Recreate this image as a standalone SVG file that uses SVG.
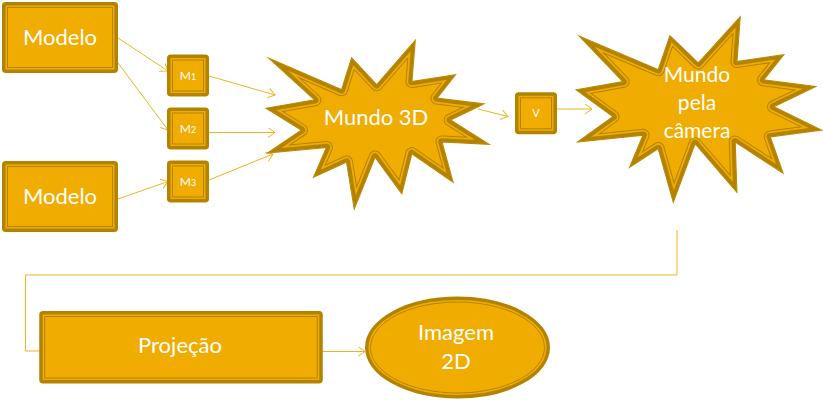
<svg xmlns="http://www.w3.org/2000/svg" xmlns:xlink="http://www.w3.org/1999/xlink" width="823" height="400" viewBox="0 0 823 400">
<style>
.o{fill:#F0AC00;stroke:#B38300;stroke-width:3.5}
.i{fill:none;stroke:#B38300;stroke-width:1}
.t{fill:#FFFFFF;font-family:Lato,"Open Sans",sans-serif;text-anchor:middle}
.c{fill:none;stroke:#F2B21E;stroke-width:1}
.sf{fill:#F0AC00;stroke:#B38300;stroke-width:1.5;stroke-linejoin:miter;stroke-miterlimit:10}
</style>
<defs>
<marker id="ah" markerUnits="userSpaceOnUse" markerWidth="10" markerHeight="12" refX="7" refY="5" orient="auto">
<path d="M0,0 L7,5 L0,10" fill="none" stroke="#F2B21E" stroke-width="1"/>
</marker>
<polygon id="s1" points="270,59 341.7,90 351.7,58.3 376.7,85 415,41 411.7,81.7 455,75 436.7,98.3 483.3,104 450,120 488.3,144 441.7,141.7 452.7,181.7 411.7,153.3 401.7,193.3 375,156.7 354.3,208.3 346.7,161.7 314,176.7 326.7,147.3 268.3,152.7 301.7,130 266.7,108.3 315,100"/>
<polygon id="s2" points="580,36.7 658.3,70 670,36 698.3,63.3 740,17.3 736.7,61.7 783.3,55 763.3,80 815,86.7 773.3,106.7 820.7,130 770,136.7 782.7,172.7 735,141.7 736.7,191.7 695,143.3 673.3,201.7 658.3,148.3 630,166.7 643.3,135 578.3,141.7 613.3,116.7 576.7,90 623.3,81.7"/>
<clipPath id="c1"><use xlink:href="#s1"/></clipPath>
<clipPath id="c2"><use xlink:href="#s2"/></clipPath>
</defs>
<rect width="823" height="400" fill="#FFFFFF"/>

<g id="connectors">
<line class="c" x1="118" y1="38" x2="168" y2="71" marker-end="url(#ah)"/>
<line class="c" x1="118" y1="63" x2="168" y2="130" marker-end="url(#ah)"/>
<line class="c" x1="118" y1="199" x2="168" y2="181.5" marker-end="url(#ah)"/>
<line class="c" x1="209" y1="76" x2="275" y2="95" marker-end="url(#ah)"/>
<line class="c" x1="209" y1="132.5" x2="275" y2="132.5" marker-end="url(#ah)"/>
<line class="c" x1="209" y1="180" x2="273" y2="154" marker-end="url(#ah)"/>
<line class="c" x1="478" y1="109" x2="508" y2="116.5" marker-end="url(#ah)"/>
<line class="c" x1="557" y1="109" x2="592" y2="109" marker-end="url(#ah)"/>
<polyline class="c" points="677,230 677,275 25.5,275 25.5,351 41,351"/>
<line class="c" x1="322" y1="351.5" x2="365" y2="351.5" marker-end="url(#ah)"/>
</g>

<g id="modelo1">
<rect class="o" x="3.75" y="3.75" width="112.5" height="67.5" rx="2"/>
<rect class="i" x="7.5" y="7.5" width="105" height="60"/>
<text class="t" x="60" y="45" font-size="22">Modelo</text>
</g>
<g id="modelo2">
<rect class="o" x="3.75" y="162.75" width="112.5" height="67.5" rx="2"/>
<rect class="i" x="7.5" y="166.5" width="105" height="60"/>
<text class="t" x="60" y="204" font-size="22">Modelo</text>
</g>
<g id="m1">
<rect class="o" x="168.75" y="56.25" width="38.5" height="38.5" rx="2"/>
<rect class="i" x="172.5" y="60" width="31" height="31"/>
<text class="t" x="188" y="80" font-size="12">M<tspan font-size="9">1</tspan></text>
</g>
<g id="m2">
<rect class="o" x="168.75" y="109.25" width="38.5" height="38.5" rx="2"/>
<rect class="i" x="172.5" y="113" width="31" height="31"/>
<text class="t" x="188" y="133" font-size="12">M<tspan font-size="9">2</tspan></text>
</g>
<g id="m3">
<rect class="o" x="168.75" y="162.25" width="38.5" height="38.5" rx="2"/>
<rect class="i" x="172.5" y="166" width="31" height="31"/>
<text class="t" x="188" y="186" font-size="12">M<tspan font-size="9">3</tspan></text>
</g>
<g id="mundo3d">
<use xlink:href="#s1" class="sf"/>
<g clip-path="url(#c1)">
<use xlink:href="#s1" fill="none" stroke="#B38300" stroke-width="12.5" stroke-linejoin="round"/>
<use xlink:href="#s1" fill="none" stroke="#F0AC00" stroke-width="10.5" stroke-linejoin="round"/>
<use xlink:href="#s1" fill="none" stroke="#B38300" stroke-width="7" stroke-linejoin="round"/>
</g>
<text class="t" x="376" y="125" font-size="22">Mundo 3D</text>
</g>
<g id="v">
<rect class="o" x="516.75" y="94" width="38.5" height="38.5" rx="2"/>
<rect class="i" x="520.5" y="97.75" width="31" height="31"/>
<text class="t" x="536" y="117" font-size="11">V</text>
</g>
<g id="mundocamera">
<use xlink:href="#s2" class="sf"/>
<g clip-path="url(#c2)">
<use xlink:href="#s2" fill="none" stroke="#B38300" stroke-width="12.5" stroke-linejoin="round"/>
<use xlink:href="#s2" fill="none" stroke="#F0AC00" stroke-width="10.5" stroke-linejoin="round"/>
<use xlink:href="#s2" fill="none" stroke="#B38300" stroke-width="7" stroke-linejoin="round"/>
</g>
<text class="t" x="697" font-size="21"><tspan x="697" y="82">Mundo</tspan><tspan x="697" y="110">pela</tspan><tspan x="697" y="138">câmera</tspan></text>
</g>
<g id="projecao">
<rect class="o" x="41" y="312.75" width="280" height="69" rx="2"/>
<rect class="i" x="44.75" y="316.5" width="272.5" height="61.5"/>
<text class="t" x="180" y="353" font-size="22">Projeção</text>
</g>
<g id="imagem2d">
<ellipse class="o" cx="457.5" cy="347.5" rx="90.75" ry="49.25"/>
<ellipse class="i" cx="457.5" cy="347.5" rx="87" ry="45.5"/>
<text class="t" font-size="22"><tspan x="456" y="340">Imagem</tspan><tspan x="456" y="369">2D</tspan></text>
</g>
</svg>
